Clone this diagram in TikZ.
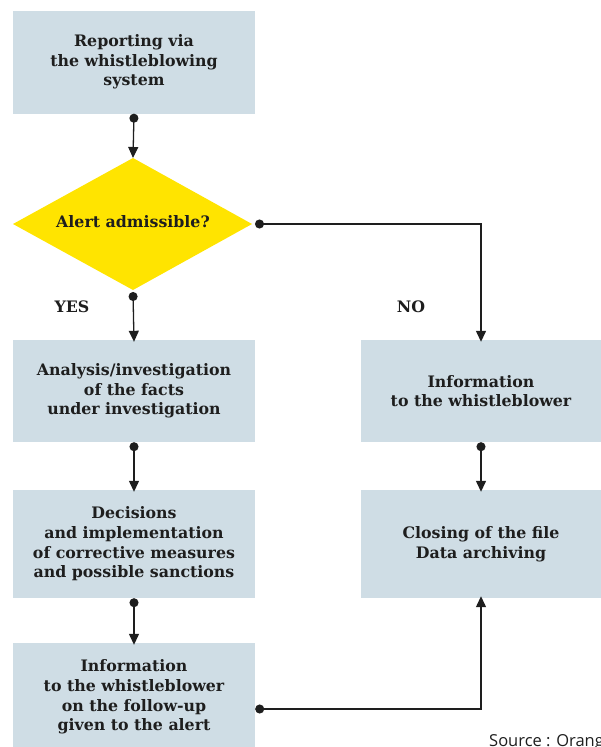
\documentclass[tikz,border=0pt]{standalone}
\usepackage{fontspec}
\setmainfont{DejaVu Serif}
\newfontfamily\srcfont{Open Sans}
\usetikzlibrary{arrows.meta,calc}
\definecolor{boxblue}{HTML}{CFDDE5}
\definecolor{alertyellow}{HTML}{FFE400}
\definecolor{ink}{HTML}{1E1E1E}
\tikzset{
  stepbox/.style={rectangle, fill=boxblue, draw=none, inner sep=0pt,
    minimum width=242pt, align=center, text=ink,
    font=\bfseries\fontsize{15.8}{19.6}\selectfont},
  conn/.style={draw=ink, line width=1.3pt,
    {Circle[length=9pt,width=9pt]}-{Triangle[length=11pt,width=10pt]}},
  lbl/.style={text=ink, font=\bfseries\fontsize{15.8}{19.6}\selectfont}
}
\begin{document}
\begin{tikzpicture}[x=1pt,y=-1pt]
\useasboundingbox (0,0) rectangle (601,747);
% boxes
\node[stepbox, minimum height=103pt] (b1) at (134,62) {Reporting via\\the whistleblowing\\system};
\node[stepbox, minimum height=102pt] (b2) at (134,391) {Analysis/investigation\\of the facts\\under investigation};
\node[stepbox, minimum height=108pt] (b3) at (134,544) {Decisions\\and implementation\\of corrective measures\\and possible sanctions};
\node[stepbox, minimum height=108pt] (b4) at (134,697) {Information\\to the whistleblower\\on the follow-up\\given to the alert};
\node[stepbox, minimum height=102pt, minimum width=240pt] (r1) at (481,391) {Information\\to the whistleblower};
\node[stepbox, minimum height=108pt, minimum width=240pt] (r2) at (481,544) {Closing of the file\\Data archiving};
% diamond
\coordinate (dtop) at (133,158);
\coordinate (dbot) at (133,290);
\coordinate (dleft) at (13,224);
\coordinate (dright) at (252,224);
\fill[alertyellow] (dtop) -- (dright) -- (dbot) -- (dleft) -- cycle;
\node[lbl] (dia) at (133,222) {Alert admissible?};
% labels
\node[lbl] (yes) at (72,307) {YES};
\node[lbl] (no) at (411,307) {NO};
% connectors
\draw[conn] (b1.south) -- (dtop);
\draw[conn] ($(dright)+(3,0)$) -| ([yshift=-2pt]r1.north);
\draw[conn] ($(dbot)+(0,2)$) -- ([yshift=-2pt]b2.north);
\draw[conn] (b2.south) -- ([yshift=-2pt]b3.north);
\draw[conn] (b3.south) -- ([yshift=-2pt]b4.north);
\draw[conn] (r1.south) -- ([yshift=-2pt]r2.north);
\coordinate (b4out) at ($(b4.east)+(0,12)$);
\draw[conn] (b4out) -| ([yshift=2pt]r2.south);
\node[anchor=base west, text=ink, font=\srcfont\fontsize{16.5}{18}\selectfont, inner sep=0pt] (src) at (489,746) {Source : Orange};
\end{tikzpicture}
\end{document}
